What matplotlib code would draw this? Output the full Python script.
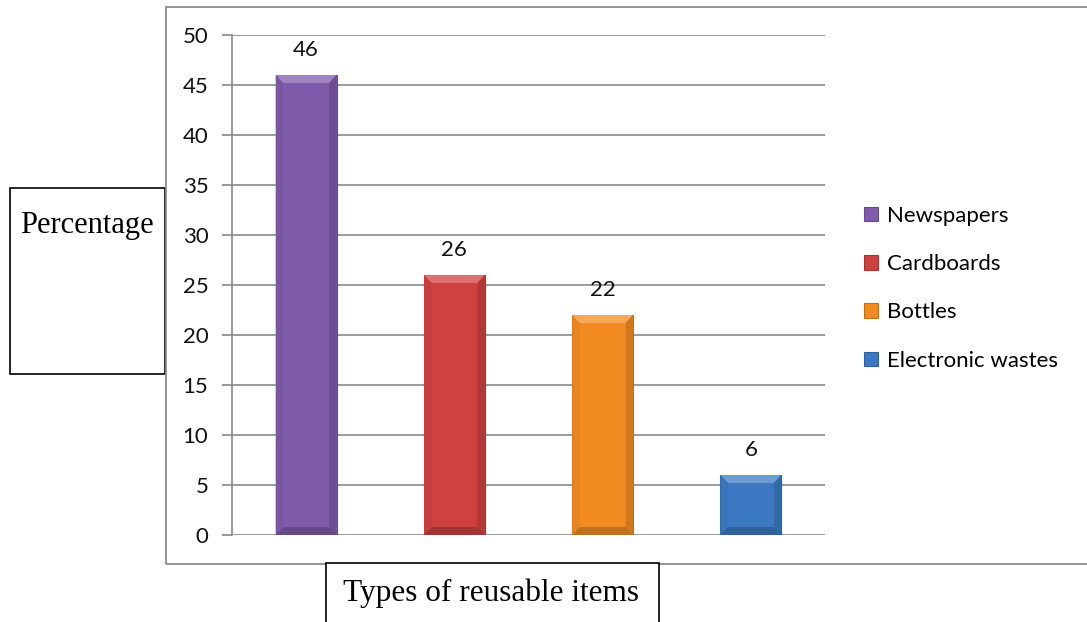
import matplotlib.pyplot as plt
from matplotlib.patches import Polygon, Rectangle
from matplotlib.colors import to_rgb

# reusable items survey
items = ['Newspapers', 'Cardboards', 'Bottles', 'Electronic wastes']
percent = [46, 26, 22, 6]
colors = ['#7f5bab', '#cf4040', '#f28b22', '#3d79c2']
yticks = [0, 5, 10, 15, 20, 25, 30, 35, 40, 45, 50]


def shade(c, f):
    r, g, b = to_rgb(c)
    if f > 1:
        return (r + (1 - r) * (f - 1), g + (1 - g) * (f - 1), b + (1 - b) * (f - 1))
    return (r * f, g * f, b * f)


fig = plt.figure(figsize=(10.87, 6.22), dpi=100)

# outer chart frame
fig.add_artist(Rectangle((166 / 1087, 1 - 564 / 622), 1, (564 - 7) / 622,
                         transform=fig.transFigure, fill=False,
                         edgecolor='#8c8c8c', lw=1.3))

ax = fig.add_axes([232 / 1087, 1 - 535 / 622, 593 / 1087, 500 / 622])
x = range(len(items))
bars = ax.bar(x, percent, width=0.41, color=colors, zorder=3,
              edgecolor=[shade(c, 0.8) for c in colors], linewidth=0.8,
              label=items)

# bevel on each bar
dx, dy = 0.05, 0.8
for b, c in zip(bars, colors):
    x0, w, h = b.get_x(), b.get_width(), b.get_height()
    x1 = x0 + w
    bev = min(dy, h / 3)
    ax.add_patch(Polygon([(x0, h), (x1, h), (x1 - dx, h - bev), (x0 + dx, h - bev)],
                         closed=True, color=shade(c, 1.25), lw=0, zorder=4))
    ax.add_patch(Polygon([(x0, 0), (x0 + dx, bev), (x0 + dx, h - bev), (x0, h)],
                         closed=True, color=shade(c, 0.95), lw=0, zorder=4))
    ax.add_patch(Polygon([(x1, 0), (x1 - dx, bev), (x1 - dx, h - bev), (x1, h)],
                         closed=True, color=shade(c, 0.86), lw=0, zorder=4))
    ax.add_patch(Polygon([(x0, 0), (x1, 0), (x1 - dx, bev), (x0 + dx, bev)],
                         closed=True, color=shade(c, 0.8), lw=0, zorder=4))
    ax.text(b.get_x() + w / 2, h + 1.5, str(h), ha='center', va='bottom',
            fontsize=16, family='Lato', color='#111111')

ax.set_xlim(-0.5, 3.5)
ax.set_ylim(0, 50)
ax.set_yticks(yticks)
ax.set_xticks([])
ax.grid(axis='y', color='#8a8a8a', lw=1.2, zorder=0)
for s in ['top', 'right', 'bottom']:
    ax.spines[s].set_visible(False)
ax.spines['left'].set_color('#8a8a8a')
ax.spines['left'].set_linewidth(1.2)
ax.tick_params(axis='y', length=7, width=1.2, color='#8a8a8a', pad=10,
               labelsize=16)
for t in ax.get_yticklabels():
    t.set_family('Lato')
    t.set_color('#111111')

leg = fig.legend(handles=bars, labels=items, loc='upper left',
                 bbox_to_anchor=(864 / 1087, 1 - 206 / 622), frameon=False,
                 prop={'family': 'Lato', 'size': 16}, labelspacing=1.27,
                 borderpad=0, borderaxespad=0,
                 handlelength=0.62, handleheight=0.62, handletextpad=0.4)

# axis title boxes
fig.text(87 / 1087, 1 - 226 / 622, 'Percentage', ha='center', va='center',
         family='Liberation Serif', fontsize=22)
fig.add_artist(Rectangle((10 / 1087, 1 - 374 / 622), 155 / 1087, 186 / 622,
                         transform=fig.transFigure, fill=True, facecolor='white',
                         edgecolor='black', lw=1.2, zorder=-1))
fig.add_artist(Rectangle((326 / 1087, -0.02), 333 / 1087, 59 / 622 + 0.02,
                         transform=fig.transFigure, facecolor='white',
                         edgecolor='black', lw=1.2))
fig.text(491 / 1087, 1 - 593 / 622, 'Types of reusable items', ha='center',
         va='center', family='Liberation Serif', fontsize=22.5)

fig.savefig('out.png', dpi=100)
